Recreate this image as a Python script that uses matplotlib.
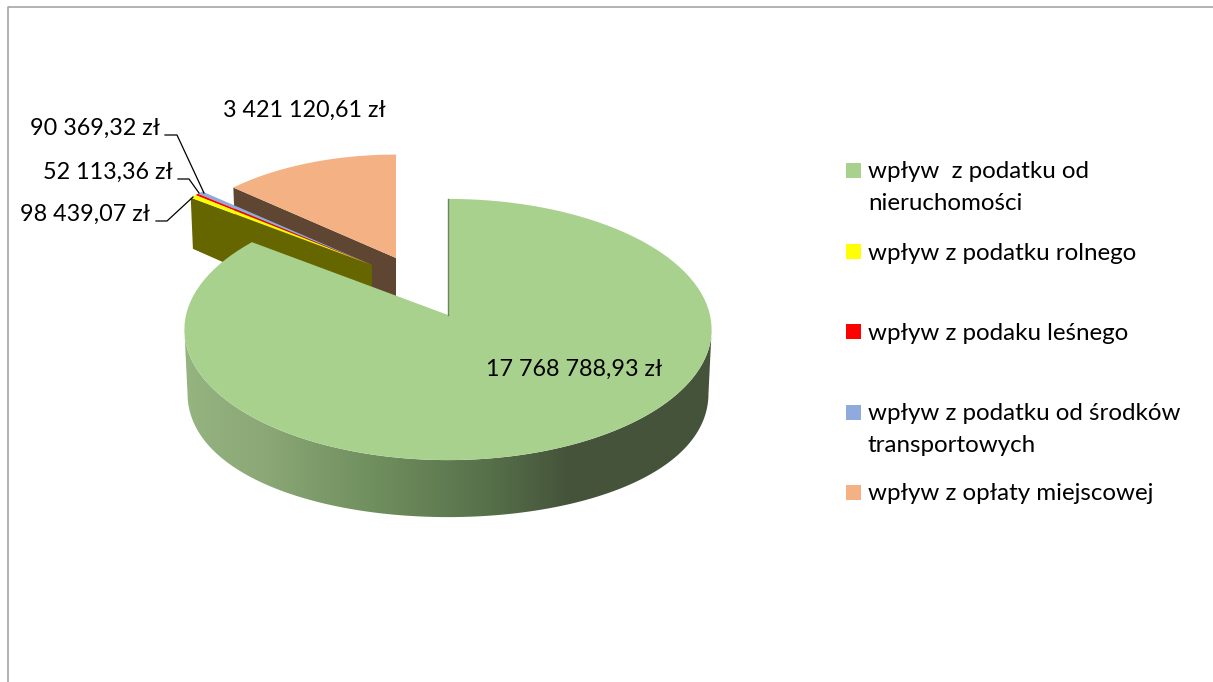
#!/usr/bin/env python3

import matplotlib
matplotlib.use('Agg')
import matplotlib.pyplot as plt
import numpy as np
from matplotlib.colors import LinearSegmentedColormap
from matplotlib.lines import Line2D
from matplotlib.patches import Polygon, Rectangle

plt.rcParams['font.family'] = ['Lato', 'DejaVu Sans']

# data
categories = ['wpływ  z podatku od\nnieruchomości', 'wpływ z podatku rolnego', 'wpływ z podaku leśnego',
              'wpływ z podatku od środków\ntransportowych', 'wpływ z opłaty miejscowej']
values = [17768788.93, 98439.07, 52113.36, 90369.32, 3421120.61]
colors = ['#A9D18E', '#FFFF00', '#FF0000', '#8FAADC', '#F4B183']


def money(v):
    return f'{v:,.2f}'.replace(',', ' ').replace('.', ',') + ' zł'


# the 3d view squeezes angles at the back of the pie, this maps value angle -> drawn angle
view_from = [0, 298.45, 302.5, 360]
view_to = [0, 307.0, 311.3, 360]

cum = np.cumsum([0] + values) / sum(values) * 360
start = np.interp(cum[:-1], view_from, view_to)
end = np.interp(cum[1:], view_from, view_to)

RX, RY, K = 262, 129, 0.111
centers = [(448, 315), (372, 265), (372, 265), (372, 265), (396, 258)]
radii = [1.0, 0.92, 0.92, 0.92, 0.88]


def top_pts(theta, c, r):
    t = np.radians(theta)
    d, x = r * np.cos(t), r * np.sin(t)
    s = 1 / (1 + K * d)
    return c[0] + RX * x * s, c[1] - RY * d * s, d


def bottom_pts(theta, c, r):
    X, Y, d = top_pts(theta, c, r)
    return c[0] + (X - c[0]) * 0.988, Y + 63 - 11.6 * d - 17.6 * d ** 2


def wedge(i):
    theta = np.linspace(start[i], end[i], 120)
    X, Y, _ = top_pts(theta, centers[i], radii[i])
    return np.column_stack([np.r_[centers[i][0], X], np.r_[centers[i][1], Y]])


def side_wall(theta_edge, c, r):
    pts = []
    for one in [0.0, r]:
        X, Y, _ = top_pts(theta_edge, c, one)
        pts.append((X, Y))
    for one in [r, 0.0]:
        X, Y = bottom_pts(theta_edge, c, one)
        pts.append((X, Y))
    return pts


fig = plt.figure(figsize=(12.13, 6.82), dpi=100)
ax = fig.add_axes([0, 0, 1, 1])
ax.set_xlim(0, 1213)
ax.set_ylim(682, 0)
ax.axis('off')

# chart frame, runs off the picture on the right and bottom
ax.add_line(Line2D([7.5, 7.5, 1213], [682, 6.5, 6.5], color='#a6a6a6', lw=1.2, zorder=1))

# orange slice with brown cut wall
ax.add_patch(Polygon(side_wall(start[4], centers[4], radii[4]), fc='#5F4632', ec='none', zorder=2))
ax.add_patch(Polygon(wedge(4), fc=colors[4], ec='none', zorder=3))

# the three thin slices with olive cut wall
ax.add_patch(Polygon(side_wall(start[1], centers[1], radii[1]), fc='#666600', ec='none', zorder=4))
for i in [3, 2, 1]:
    ax.add_patch(Polygon(wedge(i), fc=colors[i], ec='none', zorder=5))

# green outer wall with gradient, between the two widest points of the disc
theta = np.linspace(96.4, 263.6, 200)
X, Y, _ = top_pts(theta, centers[0], radii[0])
Xb, Yb = bottom_pts(theta, centers[0], radii[0])
wall = Polygon(np.column_stack([np.r_[X, Xb[::-1]], np.r_[Y, Yb[::-1]]]), fc='none', ec='none', transform=ax.transData)
ax.add_patch(wall)
cmap = LinearSegmentedColormap.from_list('wall', [(0, '#45533A'), (0.27, '#45533A'), (0.42, '#56704A'),
                                                  (0.65, '#71905F'), (0.85, '#8BA876'), (1, '#95B480')])
grad = np.linspace(0, 1, 256).reshape(1, -1)[:, ::-1]
im = ax.imshow(grad, extent=(184, 712, 530, 300), cmap=cmap, aspect='auto', zorder=6)
im.set_clip_path(wall)
ax.set_xlim(0, 1213)
ax.set_ylim(682, 0)

# green top
ax.add_patch(Polygon(wedge(0), fc=colors[0], ec='none', zorder=7))
X0, Y0, _ = top_pts(np.array([0.0, 0.0]), centers[0], np.array([0.0, 1.0]))
ax.add_line(Line2D(X0, Y0, color='#6f8463', lw=1, zorder=8))

# value labels
fs = 16.8
fs_legend = 17.4
ax.text(574, 369, money(values[0]), ha='center', va='center', fontsize=fs, zorder=10)
ax.text(304, 110, money(values[4]), ha='center', va='center', fontsize=fs, zorder=10)
ax.text(160, 128, money(values[3]), ha='right', va='center', fontsize=fs, zorder=10)
ax.text(173, 172, money(values[2]), ha='right', va='center', fontsize=fs, zorder=10)
ax.text(150, 214, money(values[1]), ha='right', va='center', fontsize=fs, zorder=10)

# leader lines
ax.add_line(Line2D([165, 177, 204], [135, 135, 193], color='black', lw=0.9, zorder=9))
ax.add_line(Line2D([178, 189, 199], [179, 179, 193], color='black', lw=0.9, zorder=9))
ax.add_line(Line2D([156, 167, 193], [221, 221, 197], color='black', lw=0.9, zorder=9))

# legend
legend_top = [163, 244, 324, 405, 485]
for col, top, name in zip(colors, legend_top, categories):
    ax.add_patch(Rectangle((846, top), 15, 15, fc=col, ec='none', zorder=10))
    ax.text(868, top + 9, name.split('\n')[0], ha='left', va='center', fontsize=fs_legend, zorder=10)
    if '\n' in name:
        ax.text(868, top + 40, name.split('\n')[1], ha='left', va='center', fontsize=fs_legend, zorder=10)

plt.savefig('out.png', dpi=100)
plt.close()
